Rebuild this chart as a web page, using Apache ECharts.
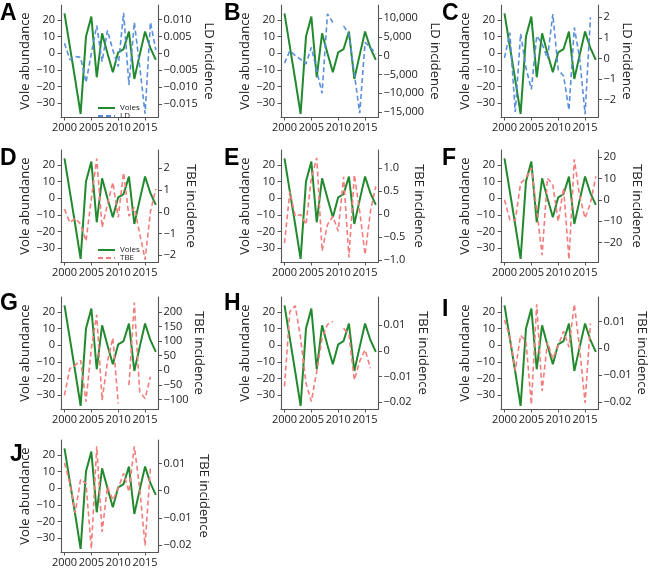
<!DOCTYPE html>
<html><head><meta charset="utf-8">
<script src="https://cdn.jsdelivr.net/npm/echarts@6/dist/echarts.min.js"></script>
<style>html,body{margin:0;padding:0;background:#fff}#c{width:650px;height:580px}</style>
</head><body><div id="c"></div>
<script>
// ---- data ----
const years = [2000,2001,2002,2003,2004,2005,2006,2007,2008,2009,2010,2011,2012,2013,2014,2015,2016,2017];
const voles = [24, 4, -16, -36.5, 10, 22, -14.5, 12, 0, -11.5, 0.5, 2.5, 13, -15.5, -1, 13, 3, -4];
const ldA = [0.003, -0.0019, -0.0009, -0.0012, -0.0086, 0, 0.0082, -0.0024, 0.0068, 0.001, -0.0039, 0.012, -0.0093, 0.0092, -0.0039, -0.0178, 0.0092, 0.001];
const ldB = [-2000, 1300, 0, -1000, -2200, 2200, -4000, -10000, 11100, 8800, null, 7900, 5700, -4800, -15300, 3500, 2200, 400];
const ldC = [0.03, 1.25, -2.6, 1.2, -0.45, -1.5, 1.1, 0.7, 0, 2.15, -0.55, -0.85, -2.5, 1.5, 0, -2.7, 2.0, null];
const tbeD = [0.12, -0.5, -0.3, -0.57, -1.35, 0.6, 2.45, -0.72, 0.35, 1.35, -0.26, 1.8, -0.2, 0.2, -1.0, -2.2, 0, 1.05];
const tbeE = [-0.63, 0.49, -0.05, -0.01, -0.23, 0.78, 1.22, -0.8, -0.23, -0.05, -0.37, 0.81, -0.94, 0.85, 0.06, -0.88, 0.06, 0.6];
const tbeF = [0, -9.4, -9.7, 7.8, 10.2, 15, -4.7, -26, 10.2, 7, -10.2, 5.5, -28, 19, 1.6, -8.6, -1.6, 11];
const tbeG = [-86, 6, 17, 34, -108, 74, 190, -103, 29, 111, -114, null, -51, 232, -74, -97, -23, null];
const tbeH = [-0.0138, 0.0153, 0.0176, 0.005, -0.0125, -0.0197, -0.008, 0.005, 0.0103, 0.0114, null, 0.0088, 0.0062, -0.0113, -0.004, 0.0004, -0.0067, null];
const tbeI = [0.0105, 0.0042, -0.0084, 0.0048, 0.0025, -0.021, 0.0164, -0.016, 0.0023, -0.004, 0.001, 0.0063, 0.0004, 0.0164, -0.0003, -0.0204, 0.0092, null];
const tbeJ = [0.0102, 0.0027, -0.0082, 0.0042, 0.0027, -0.0214, 0.0164, -0.0152, 0.0015, -0.0035, 0.0009, 0.0064, -0.0004, 0.0164, 0.0009, -0.0202, 0.0089, null];

// ---- tick labels ----
const xTicks = [2000, 2005, 2010, 2015];
const xTickLabels = ['2000', '2005', '2010', '2015'];
const voleTicks = [-30, -20, -10, 0, 10, 20];
const voleTickLabels = ['\u221230', '\u221220', '\u221210', '0', '10', '20'];
const ticksA = [-0.015, -0.01, -0.005, 0, 0.005, 0.01];
const labelsA = ['\u22120.015', '\u22120.010', '\u22120.005', '0', '0.005', '0.010'];
const ticksB = [-15000, -10000, -5000, 0, 5000, 10000];
const labelsB = ['\u221215,000', '\u221210,000', '\u22125,000', '0', '5,000', '10,000'];
const ticksC = [-2, -1, 0, 1, 2];
const labelsC = ['\u22122', '\u22121', '0', '1', '2'];
const ticksD = [-2, -1, 0, 1, 2];
const labelsD = ['\u22122', '\u22121', '0', '1', '2'];
const ticksE = [-1, -0.5, 0, 0.5, 1];
const labelsE = ['\u22121.0', '\u22120.5', '0', '0.5', '1.0'];
const ticksF = [-20, -10, 0, 10, 20];
const labelsF = ['\u221220', '\u221210', '0', '10', '20'];
const ticksG = [-100, -50, 0, 50, 100, 150, 200];
const labelsG = ['\u2212100', '\u221250', '0', '50', '100', '150', '200'];
const ticksHIJ = [-0.02, -0.01, 0, 0.01];
const labelsHIJ = ['\u22120.02', '\u22120.01', '0', '0.01'];

const seriesNames = ['Voles', 'LD', 'TBE'];
const axisNames = ['Vole abundance', 'LD incidence', 'TBE incidence'];
const letters = ['A','B','C','D','E','F','G','H','I','J'];

// ---- layout / style ----
const GREEN = '#23892f', BLUE = '#5a8fdc', RED = '#f47c7c', AX = '#555';
const colLeft = [61, 281, 501];
const rowTop = [5, 150, 297, 440];
const W = 97.5, H = 112;
const FONT = 'Open Sans';

const panels = [
  {d: ldA,  t: ticksA, l: labelsA, s: 1, col: 0, row: 0, min: -0.0188, max: 0.0143, gap: 43, c: BLUE, lx: 0,   ly: 2},
  {d: ldB,  t: ticksB, l: labelsB, s: 1, col: 1, row: 0, min: -16300, max: 13450, gap: 50, c: BLUE, lx: 224, ly: 2},
  {d: ldC,  t: ticksC, l: labelsC, s: 1, col: 2, row: 0, min: -2.84, max: 2.59, gap: 22, c: BLUE, lx: 442, ly: 2},
  {d: tbeD, t: ticksD, l: labelsD, s: 2, col: 0, row: 1, min: -2.31, max: 2.84, gap: 26, c: RED, lx: 0,   ly: 147},
  {d: tbeE, t: ticksE, l: labelsE, s: 2, col: 1, row: 1, min: -1.04, max: 1.39, gap: 34, c: RED, lx: 224, ly: 147},
  {d: tbeF, t: ticksF, l: labelsF, s: 2, col: 2, row: 1, min: -29.2, max: 23.4, gap: 32, c: RED, lx: 442, ly: 147},
  {d: tbeG, t: ticksG, l: labelsG, s: 2, col: 0, row: 2, min: -133, max: 251, gap: 34, c: RED, lx: 0,   ly: 292},
  {d: tbeH, t: ticksHIJ, l: labelsHIJ, s: 2, col: 1, row: 2, min: -0.0226, max: 0.021, gap: 38, c: RED, lx: 224, ly: 292},
  {d: tbeI, t: ticksHIJ, l: labelsHIJ, s: 2, col: 2, row: 2, min: -0.0227, max: 0.0191, gap: 33, c: RED, lx: 442, ly: 298},
  {d: tbeJ, t: ticksHIJ, l: labelsHIJ, s: 2, col: 0, row: 3, min: -0.0226, max: 0.0187, gap: 39, c: RED, lx: 10,  ly: 443}
];

function fmt(ticks, labels) {
  return function (v) {
    let best = 0, bd = Infinity;
    ticks.forEach((t, i) => { const d = Math.abs(t - v); if (d < bd) { bd = d; best = i; } });
    return labels[best];
  };
}

const lineAx = {show: true, onZero: false, lineStyle: {color: AX, width: 1.1}};
const labelStyle = {color: '#222', fontSize: 11, fontFamily: FONT};
const grid = [], xAxis = [], yAxis = [], series = [], graphic = [];

panels.forEach((p, i) => {
  grid.push({left: colLeft[p.col], top: rowTop[p.row], width: W, height: H});
  xAxis.push({
    type: 'value', gridIndex: i, min: 1999.35, max: 2017.5,
    axisLine: lineAx,
    axisTick: {show: true, customValues: xTicks, length: 3.5, lineStyle: {color: AX}},
    axisLabel: Object.assign({customValues: xTicks, formatter: fmt(xTicks, xTickLabels), margin: 5}, labelStyle),
    splitLine: {show: false}
  });
  yAxis.push({
    type: 'value', gridIndex: i, position: 'left', min: -38.4, max: 29,
    name: axisNames[0], nameLocation: 'middle', nameGap: 21, nameRotate: 90,
    nameTextStyle: {color: '#222', fontSize: 13, fontFamily: FONT},
    axisLine: lineAx,
    axisTick: {show: true, customValues: voleTicks, length: 3.5, lineStyle: {color: AX}},
    axisLabel: Object.assign({customValues: voleTicks, formatter: fmt(voleTicks, voleTickLabels), margin: 6}, labelStyle),
    splitLine: {show: false}
  });
  yAxis.push({
    type: 'value', gridIndex: i, position: 'right', min: p.min, max: p.max,
    name: axisNames[p.s], nameLocation: 'middle', nameGap: p.gap, nameRotate: -90,
    nameTextStyle: {color: '#222', fontSize: 13, fontFamily: FONT},
    axisLine: lineAx,
    axisTick: {show: true, customValues: p.t, length: 3.5, lineStyle: {color: AX}},
    axisLabel: Object.assign({customValues: p.t, formatter: fmt(p.t, p.l), margin: 5}, labelStyle),
    splitLine: {show: false}
  });
  series.push({
    type: 'line', name: seriesNames[0], xAxisIndex: i, yAxisIndex: 2 * i,
    data: years.map((y, k) => [y, voles[k]]), symbol: 'none', silent: true,
    lineStyle: {color: GREEN, width: 2}, itemStyle: {color: GREEN}, z: 2
  });
  series.push({
    type: 'line', name: seriesNames[p.s], xAxisIndex: i, yAxisIndex: 2 * i + 1,
    data: years.map((y, k) => [y, p.d[k]]), symbol: 'none', silent: true, connectNulls: false,
    lineStyle: {color: p.c, width: 1.6, type: [5, 3]}, itemStyle: {color: p.c}, z: 3
  });
  graphic.push({
    type: 'text', left: p.lx, top: p.ly, z: 10,
    style: {text: letters[i], fontSize: 23, fontWeight: 'bold', fontFamily: 'Liberation Sans', fill: '#000'}
  });
});

const legStyle = {orient: 'vertical', padding: 0, itemGap: 0, itemWidth: 17, itemHeight: 8,
  itemStyle: {opacity: 0},
  textStyle: {fontSize: 8, color: '#222', fontFamily: FONT}};
const legend = [
  Object.assign({left: 97, top: 104, data: [seriesNames[0], seriesNames[1]]}, legStyle),
  Object.assign({left: 97, top: 246, data: [seriesNames[0], seriesNames[2]]}, legStyle)
];

const chart = echarts.init(document.getElementById('c'), null, {renderer: 'canvas'});
chart.setOption({animation: false, backgroundColor: '#fff', grid, xAxis, yAxis, series, legend, graphic});
</script></body></html>
